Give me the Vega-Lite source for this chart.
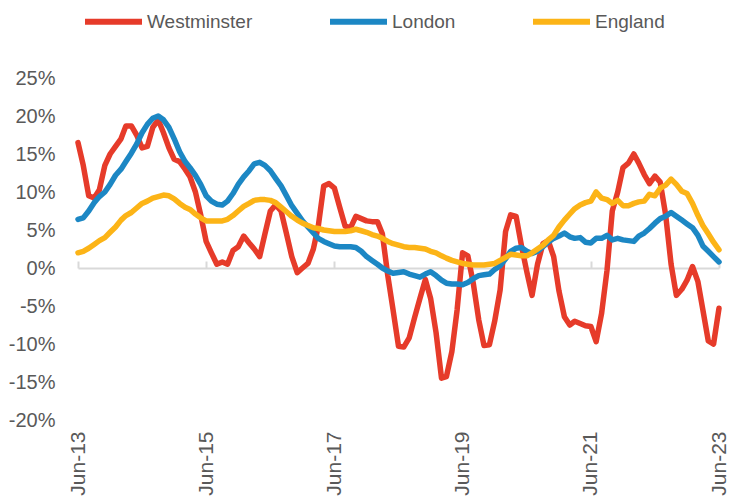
{
"$schema": "https://vega.github.io/schema/vega-lite/v6.json",
"width": 641, "height": 342,
"autosize": {"type": "none"},
"padding": {"left": 78, "top": 78, "right": 12, "bottom": 84},
"background": "white",
"config": {"view": {"stroke": null}, "font": "Liberation Sans"},
"data": {"values": [
{"d":"2013-06-01","Westminster":16.5,"London":6.4,"England":2.0},
{"d":"2013-07-01","Westminster":13.5,"London":6.6,"England":2.2},
{"d":"2013-08-01","Westminster":9.5,"London":7.5,"England":2.6},
{"d":"2013-09-01","Westminster":9.2,"London":8.6,"England":3.1},
{"d":"2013-10-01","Westminster":10.3,"London":9.4,"England":3.6},
{"d":"2013-11-01","Westminster":13.5,"London":10.0,"England":4.0},
{"d":"2013-12-01","Westminster":15.0,"London":11.0,"England":4.7},
{"d":"2014-01-01","Westminster":16.0,"London":12.2,"England":5.4},
{"d":"2014-02-01","Westminster":17.0,"London":13.0,"England":6.3},
{"d":"2014-03-01","Westminster":18.7,"London":14.0,"England":6.9},
{"d":"2014-04-01","Westminster":18.7,"London":15.1,"England":7.3},
{"d":"2014-05-01","Westminster":17.5,"London":16.3,"England":7.9},
{"d":"2014-06-01","Westminster":15.8,"London":17.8,"England":8.5},
{"d":"2014-07-01","Westminster":16.0,"London":18.9,"England":8.8},
{"d":"2014-08-01","Westminster":18.5,"London":19.7,"England":9.2},
{"d":"2014-09-01","Westminster":19.5,"London":20.0,"England":9.4},
{"d":"2014-10-01","Westminster":17.8,"London":19.5,"England":9.6},
{"d":"2014-11-01","Westminster":15.8,"London":18.5,"England":9.5},
{"d":"2014-12-01","Westminster":14.3,"London":17.0,"England":9.1},
{"d":"2015-01-01","Westminster":14.0,"London":15.3,"England":8.5},
{"d":"2015-02-01","Westminster":13.0,"London":14.0,"England":8.0},
{"d":"2015-03-01","Westminster":12.0,"London":13.2,"England":7.7},
{"d":"2015-04-01","Westminster":10.0,"London":12.2,"England":7.1},
{"d":"2015-05-01","Westminster":7.0,"London":11.0,"England":6.6},
{"d":"2015-06-01","Westminster":3.5,"London":9.5,"England":6.2},
{"d":"2015-07-01","Westminster":2.0,"London":8.8,"England":6.2},
{"d":"2015-08-01","Westminster":0.5,"London":8.4,"England":6.2},
{"d":"2015-09-01","Westminster":0.8,"London":8.3,"England":6.2},
{"d":"2015-10-01","Westminster":0.5,"London":8.8,"England":6.4},
{"d":"2015-11-01","Westminster":2.3,"London":9.8,"England":6.9},
{"d":"2015-12-01","Westminster":2.8,"London":11.0,"England":7.5},
{"d":"2016-01-01","Westminster":4.2,"London":12.0,"England":8.1},
{"d":"2016-02-01","Westminster":3.3,"London":12.8,"England":8.5},
{"d":"2016-03-01","Westminster":2.5,"London":13.7,"England":8.9},
{"d":"2016-04-01","Westminster":1.5,"London":13.9,"England":9.0},
{"d":"2016-05-01","Westminster":4.5,"London":13.5,"England":9.0},
{"d":"2016-06-01","Westminster":7.5,"London":12.8,"England":8.9},
{"d":"2016-07-01","Westminster":8.3,"London":11.8,"England":8.6},
{"d":"2016-08-01","Westminster":7.5,"London":10.8,"England":8.0},
{"d":"2016-09-01","Westminster":4.5,"London":9.5,"England":7.4},
{"d":"2016-10-01","Westminster":1.5,"London":8.2,"England":6.8},
{"d":"2016-11-01","Westminster":-0.6,"London":7.2,"England":6.3},
{"d":"2016-12-01","Westminster":0.0,"London":6.2,"England":5.9},
{"d":"2017-01-01","Westminster":0.6,"London":5.4,"England":5.6},
{"d":"2017-02-01","Westminster":2.5,"London":4.6,"England":5.3},
{"d":"2017-03-01","Westminster":5.5,"London":3.9,"England":5.2},
{"d":"2017-04-01","Westminster":10.8,"London":3.5,"England":5.0},
{"d":"2017-05-01","Westminster":11.1,"London":3.2,"England":4.9},
{"d":"2017-06-01","Westminster":10.5,"London":2.9,"England":4.8},
{"d":"2017-07-01","Westminster":8.0,"London":2.8,"England":4.8},
{"d":"2017-08-01","Westminster":5.5,"London":2.8,"England":4.8},
{"d":"2017-09-01","Westminster":5.3,"London":2.8,"England":4.9},
{"d":"2017-10-01","Westminster":6.8,"London":2.7,"England":5.1},
{"d":"2017-11-01","Westminster":6.5,"London":2.2,"England":4.9},
{"d":"2017-12-01","Westminster":6.2,"London":1.5,"England":4.7},
{"d":"2018-01-01","Westminster":6.1,"London":1.0,"England":4.4},
{"d":"2018-02-01","Westminster":6.1,"London":0.5,"England":4.2},
{"d":"2018-03-01","Westminster":4.5,"London":0.0,"England":3.9},
{"d":"2018-04-01","Westminster":-1.0,"London":-0.4,"England":3.5},
{"d":"2018-05-01","Westminster":-5.5,"London":-0.7,"England":3.2},
{"d":"2018-06-01","Westminster":-10.3,"London":-0.6,"England":3.0},
{"d":"2018-07-01","Westminster":-10.4,"London":-0.5,"England":2.8},
{"d":"2018-08-01","Westminster":-9.2,"London":-0.8,"England":2.7},
{"d":"2018-09-01","Westminster":-6.5,"London":-1.0,"England":2.7},
{"d":"2018-10-01","Westminster":-4.0,"London":-1.2,"England":2.6},
{"d":"2018-11-01","Westminster":-1.5,"London":-0.8,"England":2.5},
{"d":"2018-12-01","Westminster":-4.0,"London":-0.5,"England":2.2},
{"d":"2019-01-01","Westminster":-8.5,"London":-1.0,"England":2.0},
{"d":"2019-02-01","Westminster":-14.5,"London":-1.6,"England":1.6},
{"d":"2019-03-01","Westminster":-14.3,"London":-2.0,"England":1.3},
{"d":"2019-04-01","Westminster":-11.0,"London":-2.1,"England":1.0},
{"d":"2019-05-01","Westminster":-5.5,"London":-2.1,"England":0.8},
{"d":"2019-06-01","Westminster":2.0,"London":-2.2,"England":0.6},
{"d":"2019-07-01","Westminster":1.6,"London":-1.9,"England":0.5},
{"d":"2019-08-01","Westminster":-2.0,"London":-1.4,"England":0.4},
{"d":"2019-09-01","Westminster":-6.8,"London":-1.0,"England":0.4},
{"d":"2019-10-01","Westminster":-10.2,"London":-0.9,"England":0.4},
{"d":"2019-11-01","Westminster":-10.1,"London":-0.8,"England":0.5},
{"d":"2019-12-01","Westminster":-7.0,"London":-0.2,"England":0.6},
{"d":"2020-01-01","Westminster":-2.9,"London":0.3,"England":1.0},
{"d":"2020-02-01","Westminster":4.8,"London":1.2,"England":1.4},
{"d":"2020-03-01","Westminster":7.0,"London":2.2,"England":1.8},
{"d":"2020-04-01","Westminster":6.8,"London":2.6,"England":1.7},
{"d":"2020-05-01","Westminster":3.0,"London":2.7,"England":1.6},
{"d":"2020-06-01","Westminster":-0.5,"London":2.2,"England":1.6},
{"d":"2020-07-01","Westminster":-3.6,"London":1.9,"England":2.0},
{"d":"2020-08-01","Westminster":0.5,"London":2.2,"England":2.5},
{"d":"2020-09-01","Westminster":3.2,"London":2.8,"England":3.0},
{"d":"2020-10-01","Westminster":3.6,"London":3.4,"England":3.7},
{"d":"2020-11-01","Westminster":1.5,"London":3.9,"England":4.3},
{"d":"2020-12-01","Westminster":-3.0,"London":4.2,"England":5.4},
{"d":"2021-01-01","Westminster":-6.4,"London":4.6,"England":6.3},
{"d":"2021-02-01","Westminster":-7.5,"London":4.1,"England":7.1},
{"d":"2021-03-01","Westminster":-7.0,"London":3.9,"England":7.8},
{"d":"2021-04-01","Westminster":-7.3,"London":4.0,"England":8.3},
{"d":"2021-05-01","Westminster":-7.6,"London":3.4,"England":8.6},
{"d":"2021-06-01","Westminster":-7.7,"London":3.3,"England":8.8},
{"d":"2021-07-01","Westminster":-9.7,"London":3.9,"England":10.0},
{"d":"2021-08-01","Westminster":-6.0,"London":3.9,"England":9.2},
{"d":"2021-09-01","Westminster":-0.3,"London":4.3,"England":9.0},
{"d":"2021-10-01","Westminster":7.5,"London":3.7,"England":8.5},
{"d":"2021-11-01","Westminster":10.0,"London":3.9,"England":8.9},
{"d":"2021-12-01","Westminster":13.2,"London":3.7,"England":8.2},
{"d":"2022-01-01","Westminster":13.8,"London":3.6,"England":8.2},
{"d":"2022-02-01","Westminster":15.0,"London":3.5,"England":8.5},
{"d":"2022-03-01","Westminster":13.8,"London":4.2,"England":8.7},
{"d":"2022-04-01","Westminster":12.3,"London":4.6,"England":8.8},
{"d":"2022-05-01","Westminster":11.1,"London":5.2,"England":9.7},
{"d":"2022-06-01","Westminster":12.1,"London":5.9,"England":9.5},
{"d":"2022-07-01","Westminster":11.3,"London":6.5,"England":10.5},
{"d":"2022-08-01","Westminster":7.0,"London":6.8,"England":10.9},
{"d":"2022-09-01","Westminster":0.5,"London":7.3,"England":11.7},
{"d":"2022-10-01","Westminster":-3.6,"London":6.8,"England":11.0},
{"d":"2022-11-01","Westminster":-2.8,"London":6.3,"England":10.1},
{"d":"2022-12-01","Westminster":-1.6,"London":5.8,"England":9.8},
{"d":"2023-01-01","Westminster":0.2,"London":5.3,"England":8.5},
{"d":"2023-02-01","Westminster":-1.8,"London":4.3,"England":6.9},
{"d":"2023-03-01","Westminster":-5.5,"London":2.9,"England":5.6},
{"d":"2023-04-01","Westminster":-9.6,"London":2.2,"England":4.5},
{"d":"2023-05-01","Westminster":-10.0,"London":1.5,"England":3.4},
{"d":"2023-06-01","Westminster":-5.3,"London":0.8,"England":2.4}
]},
"transform": [{"fold": ["Westminster", "London", "England"], "as": ["series", "value"]}],
"mark": {"type": "line", "strokeWidth": 5.5, "strokeCap": "round", "strokeJoin": "round"},
"encoding": {
  "x": {"field": "d", "type": "temporal",
    "scale": {"type": "utc", "domain": [{"year": 2013, "month": "jun", "date": 1, "utc": true}, {"year": 2023, "month": "jun", "date": 1, "utc": true}]},
    "axis": {"title": null, "grid": false,
      "values": [{"year": 2013, "month": "jun", "date": 1, "utc": true}, {"year": 2015, "month": "jun", "date": 1, "utc": true}, {"year": 2017, "month": "jun", "date": 1, "utc": true}, {"year": 2019, "month": "jun", "date": 1, "utc": true}, {"year": 2021, "month": "jun", "date": 1, "utc": true}, {"year": 2023, "month": "jun", "date": 1, "utc": true}],
      "format": "%b-%y", "labelAngle": -90, "labelFontSize": 21, "labelColor": "#595959",
      "labelFlush": false, "labelOverlap": false, "labelPadding": 170,
      "offset": -152, "domainColor": "#D9D9D9", "domainWidth": 2,
      "tickColor": "#D9D9D9", "tickWidth": 2, "tickSize": -7}},
  "y": {"field": "value", "type": "quantitative",
    "scale": {"domain": [-20, 25], "nice": false, "zero": false},
    "axis": {"title": null, "grid": false, "domain": false, "ticks": false, "tickSize": 0,
      "values": [-20, -15, -10, -5, 0, 5, 10, 15, 20, 25],
      "labelExpr": "datum.value + '%'", "labelPadding": 23, "labelFontSize": 20, "labelColor": "#595959"}},
  "color": {"field": "series", "type": "nominal",
    "scale": {"domain": ["Westminster", "London", "England"], "range": ["#E63B2A", "#1C87C4", "#FCB417"]},
    "legend": {"title": null, "orient": "none", "legendX": 4, "legendY": -88, "direction": "horizontal",
      "symbolType": "stroke", "symbolSize": 3249, "symbolStrokeWidth": 6,
      "labelFontSize": 19, "labelColor": "#595959", "columnPadding": 65, "labelOffset": 2}}
}
}
